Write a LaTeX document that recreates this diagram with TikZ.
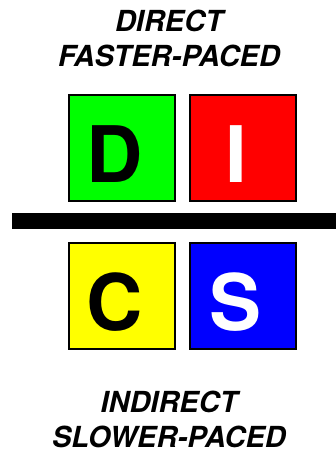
\documentclass[tikz,border=0pt]{standalone}
\usepackage{fontspec}
\setmainfont{TeX Gyre Heros}
\usetikzlibrary{positioning}
\definecolor{discgreen}{RGB}{0,255,0}
\definecolor{discred}{RGB}{255,0,0}
\definecolor{discyellow}{RGB}{255,255,0}
\definecolor{discblue}{RGB}{0,0,255}

\begin{document}
\begin{tikzpicture}[x=1pt, y=-1pt,
  letterbox/.style={draw=black, line width=2pt, minimum size=106pt, inner sep=0pt,
    text height=68pt, text depth=0pt, execute at end node={\hspace*{14pt}},
    font=\fontsize{78}{78}\selectfont\bfseries},
  caption/.style={align=center, inner sep=0pt,
    font=\fontsize{29}{35}\selectfont\bfseries\itshape}]
\useasboundingbox (0,0) rectangle (336,452);
% the four quadrants
\node[letterbox, fill=discgreen] (d) at (122,148) {D};
\node[letterbox, fill=discred, text=white, right=13pt of d] (i) {I};
\node[letterbox, fill=discyellow, below=40pt of d] (c) {C};
\node[letterbox, fill=discblue, text=white, right=13pt of c] (s) {S};
% divider
\fill[black] (12,213) rectangle (336,229);
% captions
\node[caption, anchor=north] (top) at (169,10) {DIRECT\\FASTER-PACED};
\node[caption, anchor=south] (bottom) at (169,448) {INDIRECT\\SLOWER-PACED};
\end{tikzpicture}
\end{document}
